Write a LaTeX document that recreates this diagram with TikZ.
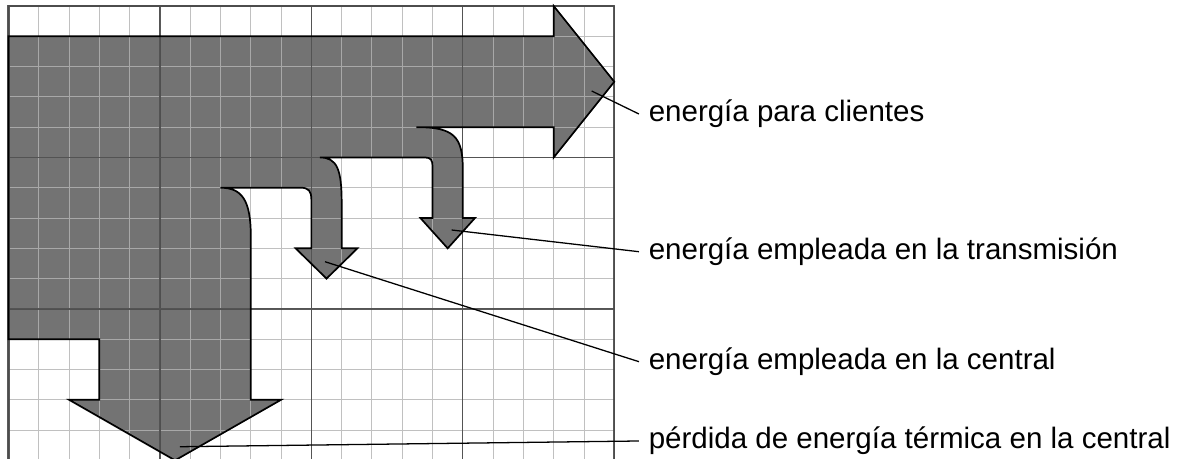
\documentclass[tikz,border=0pt]{standalone}
\usepackage{xcolor}
\usepackage{fontspec}
\setmainfont{Liberation Sans}

\definecolor{flowgray}{RGB}{115,115,115}
\definecolor{minorgrid}{RGB}{179,179,179}
\definecolor{majorgrid}{RGB}{76,76,76}

\newcommand{\energyflow}{(0,14) -- (18,14) -- (18,15) -- (20,12.5) -- (18,10) -- (18,11) -- (13.47,11)
	.. controls (14.7,11) and (15,10.7) .. (15,9.6) -- (15,8) -- (15.4,8) -- (14.5,7) -- (13.6,8) -- (14,8) -- (14,9.7)
	.. controls (14,9.9) and (13.95,10) .. (13.75,10) -- (10.28,10)
	.. controls (10.85,10) and (11,9.6) .. (11,8.5) -- (11,7) -- (11.52,7) -- (10.5,6) -- (9.48,7) -- (10,7) -- (10,8.6)
	.. controls (10,8.9) and (9.9,9) .. (9.65,9) -- (7,9)
	.. controls (7.7,9) and (8,8.6) .. (8,7.4) -- (8,2) -- (9,2) -- (5.5,0) -- (2,2) -- (3,2) -- (3,4) -- (0,4) -- cycle}

\tikzset{
	flowfill/.style={fill=flowgray},
	flowedge/.style={draw=black,line width=0.8pt,line join=miter},
	minorline/.style={draw=minorgrid,draw opacity=0.83,line width=0.45pt,step=0.5cm},
	majorline/.style={draw=majorgrid,draw opacity=0.92,line width=0.6pt,step=2.5cm},
	leaderline/.style={draw=black,line width=0.6pt},
	flowtext/.style={anchor=west,inner xsep=0.155cm,inner ysep=0pt,font=\fontsize{13.86pt}{16pt}\selectfont}
}

\begin{document}
\begin{tikzpicture}[x=0.5cm,y=0.5cm]
		\useasboundingbox (-0.28,0.045) rectangle (38.776,15.198);
		\fill[flowfill] \energyflow;
		\draw[minorline] (0,0) grid (20,15);
		\draw[majorline] (0,0) grid (20,15);
		\draw[majorline,line width=1pt] (0,0) rectangle (20,15);
		\draw[flowedge] \energyflow;

		\coordinate (clientes) at (19.254,12.194);
		\coordinate (transmision) at (14.63,7.605);
		\coordinate (central) at (10.449,6.558);
		\coordinate (termica) at (5.662,0.45);

		\node[flowtext] (lclientes) at (20.815,11.434) {energía para clientes};
		\node[flowtext] (ltransmision) at (20.815,6.888) {energía empleada en la transmisión};
		\node[flowtext] (lcentral) at (20.815,3.257) {energía empleada en la central};
		\node[flowtext] (ltermica) at (20.815,0.639) {pérdida de energía térmica en la central};

		\draw[leaderline] (clientes) -- (lclientes.west);
		\draw[leaderline] (transmision) -- (ltransmision.west);
		\draw[leaderline] (central) -- (lcentral.west);
		\draw[leaderline] (termica) -- (ltermica.west);
\end{tikzpicture}
\end{document}
